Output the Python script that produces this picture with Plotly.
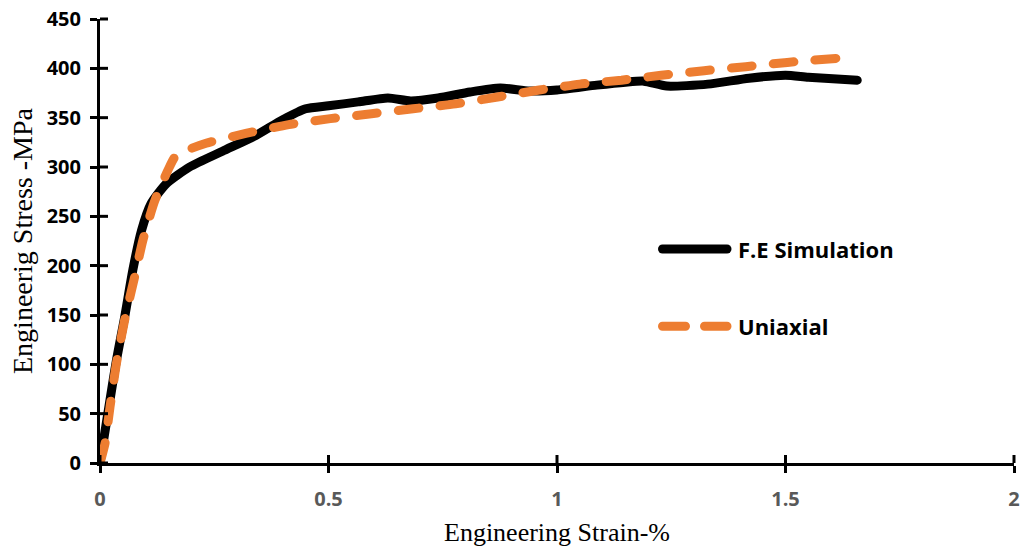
import plotly.graph_objects as go

# F.E Simulation (black solid)
fe_strain = [0, 0.036, 0.054, 0.072, 0.091, 0.112, 0.145, 0.196, 0.268, 0.341, 0.40, 0.45,
             0.5, 0.565, 0.63, 0.68, 0.74, 0.81, 0.876, 0.94, 1.0, 1.087, 1.15, 1.19, 1.24,
             1.33, 1.42, 1.5, 1.55, 1.657]
fe_stress = [0, 104, 148, 196, 236, 263, 283, 300, 316, 332, 348, 359,
             362, 366, 370, 367, 370, 376, 380, 377, 378, 383, 386, 387, 382,
             384, 390, 393, 391, 388]

# Uniaxial (orange dashed)
ux_strain = [0, 0.011, 0.022, 0.036, 0.054, 0.076, 0.094, 0.12, 0.152, 0.167, 0.232, 0.319,
             0.413, 0.504, 0.594, 0.685, 0.778, 0.87, 0.961, 1.05, 1.141, 1.228, 1.322,
             1.413, 1.504, 1.635]
ux_stress = [0, 20, 57, 101, 145, 189, 226, 266, 300, 312, 324, 334,
             343, 349, 354, 359, 364, 371, 378, 384, 388, 393, 397.6,
             401.7, 406, 411]

x_ticks = [0, 0.5, 1, 1.5, 2]
y_ticks = [0, 50, 100, 150, 200, 250, 300, 350, 400, 450]
x_range = [0, 2]
y_range = [0, 450]

series_names = ["F.E Simulation", "Uniaxial"]
series_colors = ["#000000", "#ED7D31"]
series_dash = ["solid", "21px,21px"]

fig = go.Figure()
fig.add_trace(go.Scatter(x=fe_strain, y=fe_stress, mode="lines", name=series_names[0],
                         showlegend=False,
                         line=dict(color=series_colors[0], width=9, shape="spline", smoothing=0.6)))
fig.add_trace(go.Scatter(x=ux_strain, y=ux_stress, mode="lines", name=series_names[1],
                         showlegend=False,
                         line=dict(color=series_colors[1], width=9, dash=series_dash[1],
                                   shape="spline", smoothing=0.6)))

ml, mr, mt, mb = 100, 10, 19, 87
plot_w, plot_h = 1024 - ml - mr, 550 - mt - mb

# legend drawn as paper-positioned samples + labels (pixel positions from the reference)
leg_y = [0.482, 0.308]
leg_dash = ["solid", "23px,19px"]
leg_x0, leg_x1, leg_tx = (662.5 - ml) / plot_w, (727.0 - ml) / plot_w, (736.0 - ml) / plot_w
for i, name in enumerate(series_names):
    fig.add_shape(type="line", xref="paper", yref="paper",
                  x0=leg_x0, x1=leg_x1, y0=leg_y[i], y1=leg_y[i],
                  line=dict(color=series_colors[i], width=9, dash=leg_dash[i]))
    fig.add_annotation(xref="paper", yref="paper", x=leg_tx, y=leg_y[i],
                       xanchor="left", yanchor="middle", showarrow=False, text=name,
                       font=dict(family="Open Sans", size=22, color="black", weight="bold"))

# inner half of the crossing tick marks (into the plot area)
for xv in x_ticks:
    xp = (xv - x_range[0]) / (x_range[1] - x_range[0])
    fig.add_shape(type="line", xref="paper", yref="paper",
                  x0=xp, x1=xp, y0=0, y1=8 / plot_h,
                  line=dict(color="black", width=3), layer="above")
for yv in y_ticks:
    yp = (yv - y_range[0]) / (y_range[1] - y_range[0])
    fig.add_shape(type="line", xref="paper", yref="paper",
                  y0=yp, y1=yp, x0=0, x1=8 / plot_w,
                  line=dict(color="black", width=3), layer="above")

tickfont_y = dict(family="Open Sans", size=20, color="#000000", weight="bold")
tickfont_x = dict(family="Open Sans", size=20, color="#595959", weight="bold")

fig.update_layout(
    width=1024, height=550,
    margin=dict(l=ml, r=mr, t=mt, b=mb, autoexpand=False),
    plot_bgcolor="white", paper_bgcolor="white",
    showlegend=False,
    xaxis=dict(type="linear", range=x_range, tickvals=x_ticks, ticktext=[str(v) for v in x_ticks],
               showgrid=False, zeroline=False, showline=True, linecolor="black", linewidth=3,
               ticks="outside", ticklen=7, tickwidth=3, tickcolor="black", automargin=False,
               tickfont=tickfont_x, ticklabelstandoff=9, ticklabeloverflow="allow",
               title=dict(text="Engineering Strain-%", standoff=12,
                          font=dict(family="Liberation Serif", size=26, color="black"))),
    yaxis=dict(type="linear", range=y_range, tickvals=y_ticks,
               showgrid=False, zeroline=False, showline=True, linecolor="black", linewidth=3,
               ticks="outside", ticklen=7, tickwidth=3, tickcolor="black",
               tickfont=tickfont_y, ticklabelstandoff=5, ticklabeloverflow="allow",
               title=dict(text="Engineerig Stress -MPa", standoff=6,
                          font=dict(family="Liberation Serif", size=28, color="black"))),
)

post = """
var gd = document.getElementById('{plot_id}');
gd.querySelectorAll('.scatterlayer path.js-line').forEach(function(p){
  p.style.strokeLinecap = 'round'; p.style.strokeLinejoin = 'round';
});
gd.querySelectorAll('.shapelayer path').forEach(function(p){
  var s = p.getAttribute('style') || '';
  if (s.indexOf('stroke-width: 9') >= 0) { p.style.strokeLinecap = 'round'; }
});
"""

fig.write_html("out.html", post_script=post)
